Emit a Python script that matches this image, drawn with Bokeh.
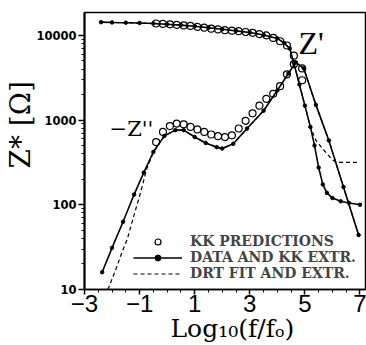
from bokeh.plotting import figure
from bokeh.models import FixedTicker, Label, Legend, LegendItem, Range1d, Title
from bokeh.embed import file_html
from bokeh.resources import INLINE

# ---- data (log10 of normalised frequency, impedance in ohm) ----
# DATA AND KK EXTR. : real part Z'
zr_logf = [-2.4, -2.0, -1.5, -1.0, -0.5, 0.0, 0.5, 1.0, 1.5, 2.0, 2.5, 3.0, 3.5, 4.0,
           4.25, 4.45, 4.6, 4.8, 5.0, 5.2, 5.35, 5.5, 5.65, 5.8, 6.0, 6.3, 6.6, 7.0]
zr_vals = [14300, 14200, 14100, 14000, 13800, 13500, 13200, 12800, 12300, 11800, 11300, 10800, 10100, 9200,
           8100, 7000, 4700, 2630, 1480, 830, 500, 275, 174, 138, 120, 110, 105, 100]

# DATA AND KK EXTR. : imaginary part -Z''
zi_logf = [-2.36, -2.0, -1.6, -1.2, -0.85, -0.5, -0.1, 0.3, 0.6, 1.0, 1.4, 1.8, 2.0, 2.4,
           2.9, 3.5, 4.0, 4.4, 4.67, 4.96, 5.4, 5.87, 6.4, 6.95]
zi_vals = [16, 31, 63, 132, 240, 420, 650, 760, 760, 631, 537, 479, 462, 525,
           794, 1290, 2240, 3550, 4790, 4070, 1510, 575, 162, 44]

# KK PREDICTIONS
kk_logf = [-0.4, -0.15, 0.1, 0.35, 0.6, 0.85, 1.1, 1.35, 1.6, 1.85, 2.1, 2.35, 2.6, 2.85,
           3.1, 3.35, 3.6, 3.85, 4.1, 4.35, 4.6, 4.9]
kk_zr = [13800, 13650, 13500, 13300, 13100, 12900, 12600, 12300, 12000, 11750, 11500, 11350, 11200, 10950,
         10700, 10350, 10000, 9330, 8510, 7590, 5750, 2950]
kk_zi = [550, 725, 850, 910, 890, 830, 775, 725, 675, 645, 630, 660, 795, 980,
         1200, 1480, 1780, 2040, 2510, 3470, 4570, 4070]

# DRT FIT AND EXTR.
drt_zr_logf = [-2.4, -1.0, 0.0, 1.0, 2.0, 3.0, 3.5, 4.0, 4.25, 4.45, 4.6, 4.8, 5.0, 5.2,
               5.4, 5.7, 6.0, 6.15, 6.95]
drt_zr_vals = [14300, 14000, 13500, 12800, 11800, 10800, 10100, 9200, 8100, 7000, 4700, 2630, 1480, 830,
               575, 437, 339, 316, 316]
drt_zi_logf = [-2.15, -1.87, -1.63, -1.45, -1.21, -0.96, -0.75, -0.5, -0.1, 0.3, 0.6, 1.0, 1.4, 1.8,
               2.0, 2.4, 2.9, 3.5, 4.0, 4.4, 4.67, 4.96, 5.4, 5.87, 6.4, 6.95]
drt_zi_vals = [10, 17, 28, 39, 74, 141, 260, 420, 650, 760, 760, 631, 537, 479,
               462, 525, 794, 1290, 2240, 3550, 4790, 4070, 1510, 575, 162, 44]

x_ticks = [-3, -1, 1, 3, 5, 7]
x_tick_labels = ["\u22123", "\u22121", "1", "3", "5", "7"]
y_ticks = [10, 100, 1000, 10000]
y_tick_labels = ["10", "100", "1000", "10000"]

legend_labels = ["KK PREDICTIONS", "DATA AND KK EXTR.", "DRT FIT AND EXTR."]
x_title = "Log\u2081\u2080(f/f\u2092)"
y_title = "Z* [\u03a9]"

black = "black"

p = figure(width=366, height=345, y_axis_type="log", title=None,
           x_range=Range1d(-3, 7.2), y_range=Range1d(10, 18600),
           output_backend="svg", toolbar_location=None,
           min_border_left=84, min_border_right=1, min_border_top=12, min_border_bottom=56)
p.xgrid.visible = False
p.ygrid.visible = False
p.outline_line_color = black
p.outline_line_width = 1.5
p.background_fill_color = "white"
p.border_fill_color = "white"

d_r = p.line(drt_zr_logf, drt_zr_vals, line_color=black, line_width=1.2, line_dash="4 3")
p.line(drt_zi_logf, drt_zi_vals, line_color=black, line_width=1.2, line_dash="4 3")
s_r = p.line(zr_logf, zr_vals, line_color=black, line_width=1.6)
p.line(zi_logf, zi_vals, line_color=black, line_width=1.6)
dot_r = p.scatter(zr_logf, zr_vals, marker="circle", size=3.5, color=black)
p.scatter(zi_logf, zi_vals, marker="circle", size=3.5, color=black)
kk_r = p.scatter(kk_logf, kk_zr, marker="circle", size=7, fill_color=None,
                 line_color=black, line_width=1.2)
p.scatter(kk_logf, kk_zi, marker="circle", size=7, fill_color=None,
          line_color=black, line_width=1.2)

legend = Legend(items=[LegendItem(label=legend_labels[0], renderers=[kk_r]),
                       LegendItem(label=legend_labels[1], renderers=[s_r, dot_r]),
                       LegendItem(label=legend_labels[2], renderers=[d_r])],
                location=(49, 8), border_line_color=None, background_fill_alpha=0,
                padding=0, margin=0, spacing=0, glyph_width=49, glyph_height=15,
                label_height=15, label_standoff=8,
                label_text_font="DejaVu Serif", label_text_font_style="bold",
                label_text_font_size="14px")
p.add_layout(legend)

for ax in (p.xaxis[0], p.yaxis[0]):
    ax.axis_label = None
    ax.axis_label_standoff = 0
    ax.major_tick_in = 0
    ax.minor_tick_in = 0
    ax.major_label_text_color = black
    ax.major_tick_line_width = 1.5

xa = p.xaxis[0]
xa.ticker = FixedTicker(ticks=x_ticks, minor_ticks=[i * 0.5 for i in range(-6, 15)])
xa.major_label_overrides = {t: s for t, s in zip(x_ticks, x_tick_labels)}
xa.major_label_text_font = "Liberation Sans"
xa.major_label_text_font_size = "24px"
xa.major_label_standoff = 0
xa.major_tick_out = 5
xa.minor_tick_out = 3
xa.axis_line_width = 1.5

ya = p.yaxis[0]
ya.ticker = FixedTicker(ticks=y_ticks,
                        minor_ticks=[m * d for d in (10, 100, 1000) for m in range(2, 10)])
ya.major_label_overrides = {t: s for t, s in zip(y_ticks, y_tick_labels)}
ya.major_label_text_font = "DejaVu Sans"
ya.major_label_text_font_style = "bold"
ya.major_label_text_font_size = "11.5px"
ya.major_label_standoff = 2
ya.major_tick_out = 6
ya.minor_tick_out = 3
ya.axis_line_width = 2

# axis titles as side-panel titles (positioned along the axis with offsets)
p.add_layout(Title(text=x_title, align="left", offset=86, standoff=-5,
                   text_font="DejaVu Serif", text_font_style="normal",
                   text_font_size="25px", text_color=black), "below")
p.add_layout(Title(text=y_title, align="left", offset=121, standoff=-6,
                   text_font="DejaVu Serif", text_font_style="normal",
                   text_font_size="28px", text_color=black), "left")

p.add_layout(Label(x=4.77, y=8010, text="Z'", text_font="Liberation Serif",
                   text_font_size="32px", text_color=black, text_baseline="alphabetic"))
p.add_layout(Label(x=-2.09, y=794, text="\u2212Z''", text_font="DejaVu Serif",
                   text_font_size="21px", text_color=black, text_baseline="alphabetic"))

open("out.html", "w").write(file_html(p, INLINE))
